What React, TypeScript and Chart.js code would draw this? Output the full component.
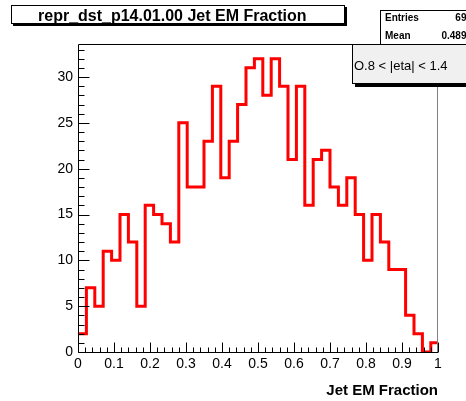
import React, { useEffect, useRef } from 'react';
import { Chart, registerables } from 'chart.js';

Chart.register(...registerables);

// ---- data ----
const HIST_TITLE = 'repr_dst_p14.01.00 Jet EM Fraction';
const X_TITLE = 'Jet EM Fraction';
const CUT_LABEL = 'O.8 < |eta| < 1.4';
const STATS_NAMES = ['Entries', 'Mean'];
const STATS_VALUES = ['697', '0.4892'];

const X_MIN = 0;
const X_MAX = 1;
const BIN_WIDTH = 0.0233333;
const COUNTS = [
  2, 7, 5, 11, 10, 15, 12, 5, 16, 15,
  14, 12, 25, 18, 18, 23, 29, 19, 23, 27,
  31, 32, 28, 32, 29, 21, 29, 16, 21, 22,
  18, 16, 19, 15, 10, 15, 12, 9, 9, 4,
  2, 0, 1,
];
const Y_MAX = 33.6;
const Y_TICKS = [0, 5, 10, 15, 20, 25, 30];
const Y_TICK_LABELS = ['0', '5', '10', '15', '20', '25', '30'];
const Y_MINOR_STEP = 1;
const X_TICKS = [0, 0.1, 0.2, 0.3, 0.4, 0.5, 0.6, 0.7, 0.8, 0.9, 1];
const X_TICK_LABELS = ['0', '0.1', '0.2', '0.3', '0.4', '0.5', '0.6', '0.7', '0.8', '0.9', '1'];
const X_MINOR_STEP = 0.02;

const FONT = '"Liberation Sans", Arial, Helvetica, sans-serif';

function histOutline() {
  const pts: { x: number; y: number }[] = [];
  COUNTS.forEach((c, i) => {
    const lo = X_MIN + i * BIN_WIDTH;
    const hi = Math.min(X_MIN + (i + 1) * BIN_WIDTH, X_MAX);
    pts.push({ x: lo, y: c });
    pts.push({ x: hi, y: c });
  });
  return pts;
}

const framePlugin = {
  id: 'rootFrame',
  afterDatasetsDraw(chart: any) {
    const { ctx, chartArea: a, scales } = chart;
    const xs = scales.x;
    const ys = scales.y;
    const L = Math.round(a.left) + 0.5;
    const R = Math.round(a.right) - 0.5;
    const T = Math.round(a.top) + 0.5;
    const B = Math.round(a.bottom) + 0.5;
    ctx.save();
    ctx.lineWidth = 1;
    ctx.strokeStyle = '#000';
    ctx.beginPath();
    ctx.moveTo(L, T);
    ctx.lineTo(R, T);
    ctx.stroke();
    ctx.strokeStyle = '#808080';
    ctx.beginPath();
    ctx.moveTo(R, T);
    ctx.lineTo(R, B);
    ctx.stroke();
    ctx.strokeStyle = '#000';
    ctx.beginPath();
    ctx.moveTo(L, T);
    ctx.lineTo(L, B);
    ctx.lineTo(R + 0.5, B);
    ctx.stroke();
    ctx.beginPath();
    for (let v = 0; v <= Y_MAX; v += Y_MINOR_STEP) {
      const py = Math.round(ys.getPixelForValue(v)) + 0.5;
      const major = Y_TICKS.includes(v);
      ctx.moveTo(L, py);
      ctx.lineTo(L + (major ? 11 : 6), py);
    }
    for (let k = 0; k * X_MINOR_STEP <= X_MAX + 1e-9; k++) {
      const v = X_MIN + k * X_MINOR_STEP;
      const px = Math.round(xs.getPixelForValue(v)) + 0.5;
      const major = k % 5 === 0;
      ctx.moveTo(px, B);
      ctx.lineTo(px, B - (major ? 10 : 5));
    }
    ctx.stroke();
    ctx.restore();
  },
};

const boxesPlugin = {
  id: 'rootBoxes',
  afterDraw(chart: any) {
    const { ctx } = chart;
    ctx.save();
    ctx.lineWidth = 1;
    ctx.fillStyle = '#000';
    ctx.fillRect(13, 7, 334, 19);
    ctx.fillStyle = '#fff';
    ctx.fillRect(11, 5, 334, 19);
    ctx.strokeStyle = '#000';
    ctx.strokeRect(11.5, 5.5, 333, 18);
    ctx.fillStyle = '#000';
    ctx.font = `bold 16px ${FONT}`;
    ctx.textAlign = 'left';
    ctx.textBaseline = 'alphabetic';
    ctx.fillText(HIST_TITLE, 38, 21);

    ctx.fillStyle = '#fff';
    ctx.fillRect(380, 10, 100, 40);
    ctx.strokeRect(380.5, 10.5, 100, 40);
    ctx.fillStyle = '#000';
    ctx.font = `bold 10px ${FONT}`;
    ctx.textAlign = 'left';
    ctx.fillText(STATS_NAMES[0], 385, 21);
    ctx.fillText(STATS_NAMES[1], 385, 38.5);
    ctx.textAlign = 'right';
    ctx.fillText(STATS_VALUES[0], 472, 21);
    ctx.fillText(STATS_VALUES[1], 472, 38.5);

    ctx.fillStyle = '#000';
    ctx.fillRect(355, 47, 140, 40);
    ctx.fillStyle = '#f0f0f0';
    ctx.fillRect(352, 44, 140, 40);
    ctx.strokeRect(352.5, 44.5, 140, 39);
    ctx.fillStyle = '#000';
    ctx.font = `13px ${FONT}`;
    ctx.textAlign = 'left';
    ctx.fillText(CUT_LABEL, 354, 69.5);
    ctx.restore();
  },
};

export default function App() {
  const ref = useRef<HTMLCanvasElement | null>(null);
  useEffect(() => {
    if (!ref.current) return;
    const chart = new Chart(ref.current, {
      type: 'line',
      data: {
        datasets: [
          {
            data: histOutline(),
            borderColor: '#ff0000',
            borderWidth: 3,
            pointRadius: 0,
            tension: 0,
            fill: false,
            borderJoinStyle: 'miter',
            borderCapStyle: 'butt',
          },
        ],
      },
      options: {
        responsive: false,
        animation: false,
        devicePixelRatio: 1,
        layout: { padding: { left: 0, right: 28, top: 44, bottom: 0 } },
        plugins: {
          legend: { display: false },
          tooltip: { enabled: false },
          title: { display: false },
        },
        events: [],
        scales: {
          x: {
            type: 'linear',
            min: X_MIN,
            max: X_MAX,
            grid: { display: false, drawTicks: false },
            border: { display: false },
            afterFit: (s: any) => {
              s.height = 49;
            },
            afterBuildTicks: (s: any) => {
              s.ticks = X_TICKS.map((v) => ({ value: v }));
            },
            ticks: {
              autoSkip: false,
              maxRotation: 0,
              minRotation: 0,
              padding: 4,
              color: '#000',
              font: { family: FONT, size: 14 },
              callback: (_v: any, i: number) => X_TICK_LABELS[i],
            },
            title: {
              display: true,
              text: X_TITLE,
              align: 'end',
              color: '#000',
              font: { family: FONT, size: 15, weight: 'bold' },
              padding: { top: 0, bottom: 1 },
            },
          },
          y: {
            type: 'linear',
            min: 0,
            max: Y_MAX,
            grid: { display: false, drawTicks: false },
            border: { display: false },
            afterFit: (s: any) => {
              s.width = 78;
            },
            afterBuildTicks: (s: any) => {
              s.ticks = Y_TICKS.map((v) => ({ value: v }));
            },
            ticks: {
              autoSkip: false,
              padding: 5,
              color: '#000',
              font: { family: FONT, size: 14 },
              callback: (_v: any, i: number) => Y_TICK_LABELS[i],
            },
          },
        },
      },
      plugins: [framePlugin, boxesPlugin],
    } as any);
    return () => chart.destroy();
  }, []);
  return (
    <div style={{ position: 'absolute', left: 0, top: 0, width: 466, height: 401, background: '#fff' }}>
      <canvas ref={ref} width={466} height={401} style={{ display: 'block', width: 466, height: 401 }} />
    </div>
  );
}
